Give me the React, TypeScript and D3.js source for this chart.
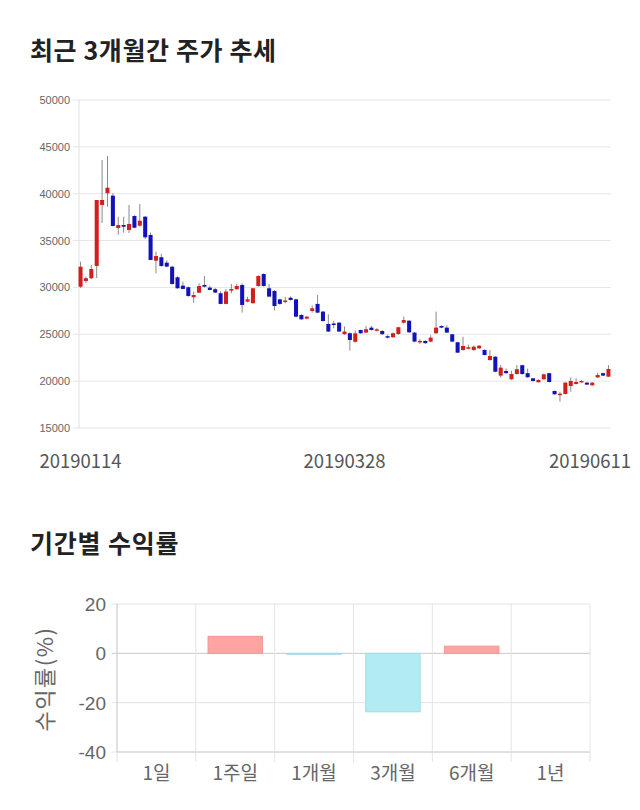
import React from "react";
import * as d3 from "d3";

// ---- Price data (open, high, low, close) ----
const opens = [30080,30690,30980,32290,38800,40050,39790,36340,36660,36130,37620,36590,37550,35600,32850,33220,32640,32210,31080,30190,30020,28950,29440,30260,29980,29810,29380,28240,29660,29810,30260,28490,28310,30150,31430,29910,29620,28730,28520,28900,28730,27060,26670,27490,28240,27420,26100,26150,26240,25010,25110,24200,25460,25180,25710,25380,25350,24800,24690,25030,26240,26450,25180,24150,24290,24220,25110,25880,25710,25000,24150,23320,23580,23320,23500,23320,22250,22610,20590,21080,20200,20760,21700,20850,20300,19880,20200,20850,18950,18600,18630,19480,19700,19880,19840,19560,20400,20850,20480];
const highs = [32750,31150,32400,39330,43600,44020,40050,37550,37550,38800,37700,38900,37600,35850,33820,33600,32900,32300,31200,30620,30100,29560,30440,31220,30200,29950,29600,29830,30370,30370,30440,29000,29950,31300,31500,30370,29700,28800,29000,29050,28800,27150,26950,28080,29190,27500,27130,26450,26300,25830,25200,25400,25500,25900,25900,25650,25450,24950,25200,25800,26900,26500,25250,24500,24350,24900,27420,25950,25950,25050,24200,24740,23900,23800,23850,23400,23320,22650,21720,21350,21100,21720,21750,21350,20350,20200,20800,20900,19000,18880,19900,20380,20300,20100,19900,19900,20900,20900,21720];
const lows = [29940,30450,30900,31000,36870,38620,36500,35600,35840,35810,36300,36490,35150,32900,31510,32200,32150,30300,29850,29800,29000,28380,29400,30000,29700,29400,28200,28200,29380,29750,27310,28400,28300,30100,30100,28950,27550,28150,28300,28600,26800,26550,26600,27300,27250,26350,25250,25640,25250,24950,23250,24100,25050,25150,25400,25300,24950,24550,24600,24950,26150,25150,24150,23950,24000,24150,25050,25650,25150,24150,23000,23250,23400,23250,23450,22750,22200,20950,20380,20800,20150,20700,20700,20350,19950,19850,20150,19850,18550,17820,18600,18880,19650,19850,19600,19500,20350,20550,20450];
const closes = [32210,30980,31970,39330,39330,40640,36560,36660,36480,36770,36370,37120,35350,32930,33350,32290,32220,30370,29910,29840,29090,29190,30150,30080,29730,29450,28240,29560,29830,30150,28130,28730,29910,31220,30150,29020,28020,28240,28600,28660,26880,26600,26880,27770,27310,26420,25290,26100,25290,25290,24390,25100,25110,25540,25460,25530,25010,24690,25110,25750,26520,25210,24220,24290,24050,24640,25710,25710,25180,24220,23040,23750,23620,23680,23780,22790,22680,21010,21440,20850,20760,21270,20760,20420,20020,20120,20730,19910,18600,18660,19840,20020,19910,20020,19630,19840,20650,20590,21300];

const priceTicks = [15000, 20000, 25000, 30000, 35000, 40000, 45000, 50000];
const dateLabels = ["20190114", "20190328", "20190611"];
const dateLabelIndex = [0, 49, 98];

// ---- Returns data ----
const periods = ["1일", "1주일", "1개월", "3개월", "6개월", "1년"];
const returns = [0, 6.9, -0.3, -23.7, 2.9, 0];
const returnTicks = [-40, -20, 0, 20];

const KR = "'Noto Sans CJK KR', 'Noto Sans', sans-serif";
const SANS = "'Liberation Sans', Arial, sans-serif";

export default function App() {
  const n = opens.length;
  const idx = d3.range(n);
  const x = d3.scaleBand<number>().domain(idx).range([78, 611]).paddingInner(0.25).paddingOuter(0.1);
  const y = d3.scaleLinear().domain([15000, 50000]).range([428, 100]);
  const bw = x.bandwidth();

  const xb = d3.scaleBand<string>().domain(periods).range([117, 590]);
  const yb = d3.scaleLinear().domain([-40, 20]).range([752, 604]);
  const barW = xb.bandwidth() * 0.69;

  return (
    <svg width={640} height={810} style={{ position: "absolute", left: 0, top: 0, background: "#fff" }}>
      <rect x={0} y={0} width={640} height={810} fill="#fff" />
      <text x={30} y={60} fontFamily={KR} fontWeight={700} fontSize={25} letterSpacing={0.6} fill="#222">최근 3개월간 주가 추세</text>

      {/* price grid */}
      {priceTicks.map((t) => (
        <g key={t}>
          <line x1={73} x2={611} y1={y(t)} y2={y(t)} stroke="#e6e6e6" strokeWidth={1} />
          <text x={70} y={y(t) + 4} textAnchor="end" fontFamily={SANS} fontSize={11} fill="#666">{t}</text>
        </g>
      ))}
      <line x1={79} x2={79} y1={y(50000)} y2={y(15000)} stroke="#e0e0e0" strokeWidth={1} />

      {/* candles */}
      {idx.map((i) => {
        const up = closes[i] >= opens[i];
        const cx = (x(i) as number) + bw / 2;
        const top = y(Math.max(opens[i], closes[i]));
        const bot = y(Math.min(opens[i], closes[i]));
        const col = up ? "#d11e1e" : "#1212b8";
        return (
          <g key={i}>
            <line x1={cx} x2={cx} y1={y(highs[i])} y2={y(lows[i])} stroke="#8a8a8a" strokeWidth={1} />
            <rect x={x(i) as number} y={top} width={bw} height={Math.max(1.5, bot - top)} fill={col} />
          </g>
        );
      })}

      {/* date labels */}
      {dateLabels.map((d, k) => {
        const cx = (x(dateLabelIndex[k]) as number) + bw / 2;
        const cxl = Math.min(cx, 590);
        return (
          <text key={d} x={cxl} y={468} textAnchor="middle" fontFamily={KR} fontSize={18.5} fill="#555">{d}</text>
        );
      })}

      <text x={30} y={553} fontFamily={KR} fontWeight={700} fontSize={25} letterSpacing={0.8} fill="#222">기간별 수익률</text>

      {/* returns grid */}
      {returnTicks.map((t) => (
        <g key={t}>
          <line x1={112} x2={590} y1={yb(t)} y2={yb(t)} stroke={t === 0 ? "#c8c8c8" : "#e4e4e4"} strokeWidth={1} />
          <text x={106} y={yb(t) + 7} textAnchor="end" fontFamily={SANS} fontSize={19} fill="#666">{t}</text>
        </g>
      ))}
      {periods.map((p) => (
        <line key={p} x1={xb(p) as number} x2={xb(p) as number} y1={604} y2={762} stroke="#e4e4e4" strokeWidth={1} />
      ))}
      <line x1={590} x2={590} y1={604} y2={762} stroke="#e4e4e4" strokeWidth={1} />
      <line x1={117} x2={117} y1={604} y2={752} stroke="#d0d0d0" strokeWidth={1} />
      <line x1={117} x2={590} y1={752} y2={752} stroke="#d0d0d0" strokeWidth={1} />

      {/* bars */}
      {periods.map((p, i) => {
        const v = returns[i];
        const bx = (xb(p) as number) + (xb.bandwidth() - barW) / 2;
        const top = yb(Math.max(0, v));
        const h = Math.abs(yb(v) - yb(0));
        const pos = v >= 0;
        if (h < 0.01) return null;
        return (
          <rect key={p} x={bx} y={top} width={barW} height={Math.max(h, 1)}
            fill={pos ? "#ffa3a3" : "#b2ebf2"} stroke={pos ? "#f59595" : "#a3dde6"} strokeWidth={1} />
        );
      })}

      {periods.map((p) => (
        <text key={p} x={(xb(p) as number) + xb.bandwidth() / 2} y={780} textAnchor="middle" fontFamily={KR} fontSize={19} fill="#666">{p}</text>
      ))}

      <text transform={`translate(53,679) rotate(-90)`} textAnchor="middle" fontFamily={KR} fontSize={22} letterSpacing={1.5} fill="#666">수익률(%)</text>
    </svg>
  );
}
